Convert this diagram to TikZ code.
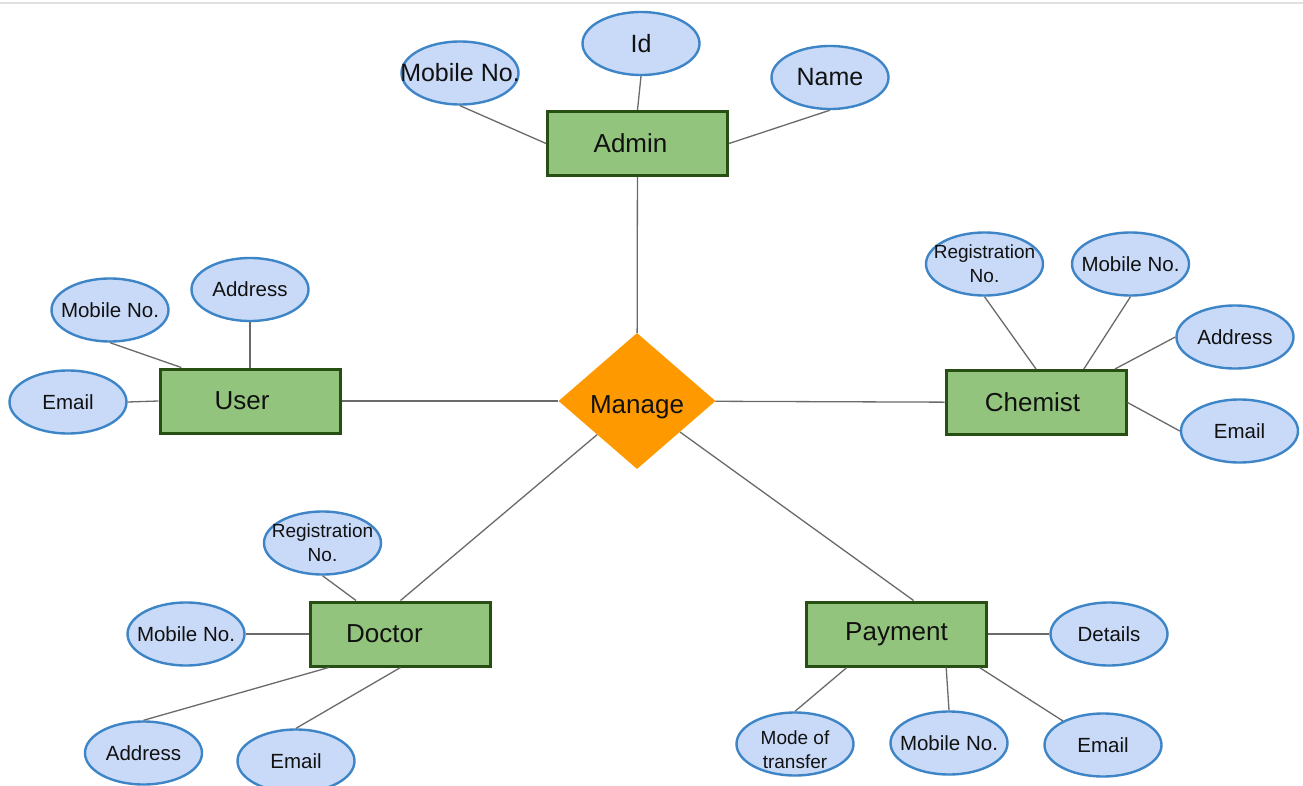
\documentclass[tikz,border=0pt]{standalone}
\usepackage{fontspec}
\setmainfont{Liberation Sans}
\usetikzlibrary{shapes.geometric}

\definecolor{entfill}{HTML}{93C47D}
\definecolor{entline}{HTML}{274E13}
\definecolor{attfill}{HTML}{C9DAF8}
\definecolor{attline}{HTML}{3D85C6}
\definecolor{relfill}{HTML}{FF9900}
\definecolor{linkgray}{HTML}{6A6A6A}
\definecolor{txt}{HTML}{111111}

\tikzset{
  entity/.style={rectangle, draw=entline, fill=entfill, line width=3pt,
    minimum width=180pt, minimum height=64pt, inner sep=0pt,
    text=txt, font=\fontsize{26}{30}\selectfont},
  % attribute ellipses keep a fixed size; their text sits on top as a label
  attrshape/.style={ellipse, draw=attline, fill=attfill, line width=2.4pt,
    minimum width=117pt, minimum height=63pt, inner sep=0pt},
  attrtext/.style={text=txt, align=center, inner sep=0pt,
    font=\fontsize{20.5}{24}\selectfont},
  attr/.style={attrshape, label={[attrtext]center:#1}},
  bigattr/.style={attrshape, label={[attrtext, font=\fontsize{25}{28}\selectfont]center:#1}},
  smallattr/.style={attrshape, label={[attrtext, font=\fontsize{19}{24}\selectfont]center:#1}},
  lowattr/.style={attrshape, label={[attrtext, yshift=-6pt, font=\fontsize{19}{24}\selectfont]center:#1}},
  relation/.style={diamond, fill=relfill, minimum width=157pt,
    minimum height=136pt, inner sep=0pt,
    label={[text=txt, inner sep=0pt, yshift=-6pt, font=\fontsize{26}{30}\selectfont]center:#1}},
  link/.style={draw=linkgray, line width=1.3pt}
}

\begin{document}
\begin{tikzpicture}[x=1pt,y=-1pt]
\useasboundingbox (0,0) rectangle (1303,786);
\clip (0,0) rectangle (1303,786);
\fill[white] (0,0) rectangle (1303,786);
\draw[color=black!12, line width=1.5pt] (0,3) -- (1303,3);

% relationship
\node[relation={Manage}] (manage) at (637,401) {};

% entities
\node[entity] (admin)   at (637.5,143.5) {\hspace*{-14pt}Admin};
\node[entity] (user)    at (250,401)     {\hspace*{-16pt}User};
\node[entity] (chemist) at (1036,402.5)  {\hspace*{-7pt}Chemist};
\node[entity] (doctor)  at (400.5,634)   {\hspace*{-32pt}Doctor};
\node[entity] (payment) at (896.5,634)   {Payment};

% admin attributes
\node[bigattr={Mobile No.}] (admob)  at (460,73)   {};
\node[bigattr={Id}]         (adid)   at (641,43.5) {};
\node[bigattr={Name}]       (adname) at (830,77.5) {};

% user attributes
\node[attr={Mobile No.}] (usmob)   at (110,310)   {};
\node[attr={Address}]    (usaddr)  at (250,289.5) {};
\node[attr={Email}]      (usemail) at (68,402)    {};

% chemist attributes
\node[smallattr={Registration\\No.}] (chreg) at (984.5,264) {};
\node[attr={Mobile No.}] (chmob)   at (1130.5,264) {};
\node[attr={Address}]    (chaddr)  at (1235,337)   {};
\node[attr={Email}]      (chemail) at (1239.5,431) {};

% doctor attributes
\node[smallattr={Registration\\No.}] (doreg) at (322.5,543) {};
\node[attr={Mobile No.}] (domob)   at (186,634)   {};
\node[attr={Address}]    (doaddr)  at (143.5,753) {};
\node[attr={Email}]      (doemail) at (296,761)   {};

% payment attributes
\node[attr={Details}]    (padet)   at (1109,634)  {};
\node[lowattr={Mode of\\transfer}] (pamode) at (795,744) {};
\node[attr={Mobile No.}] (pamob)   at (949,743)   {};
\node[attr={Email}]      (paemail) at (1103,745)  {};

% relationship links
\draw[link] (admin) -- (manage);
\draw[link] (user) -- (manage);
\draw[link] (manage) -- (chemist);
\draw[link] (manage) -- (doctor.north);
\draw[link] (manage) -- (payment.63);

% attribute links
\draw[link] (admob.south) -- (admin.west);
\draw[link] (adid.south) -- (admin.north);
\draw[link] (adname.south) -- (admin.east);

\draw[link] (usmob.south) -- (user.154);
\draw[link] (usaddr.south) -- (user.north);
\draw[link] (usemail.east) -- (user.west);

\draw[link] (chreg.south) -- (chemist.north);
\draw[link] (chmob.south) -- (chemist.35.5);
\draw[link] (chaddr.west) -- (chemist.23.5);
\draw[link] (chemail.west) -- (chemist.east);

\draw[link] (doreg.south) -- (doctor.143);
\draw[link] (domob.east) -- (doctor.west);
\draw[link] (doaddr.north) -- (doctor.205);
\draw[link] (doemail.north) -- (doctor.south);

\draw[link] (padet.west) -- (payment.east);
\draw[link] (pamode.north) -- (payment.214.5);
\draw[link] (pamob.north) -- (payment.-34);
\draw[link] (paemail.149) -- (payment.-22);
\end{tikzpicture}
\end{document}
